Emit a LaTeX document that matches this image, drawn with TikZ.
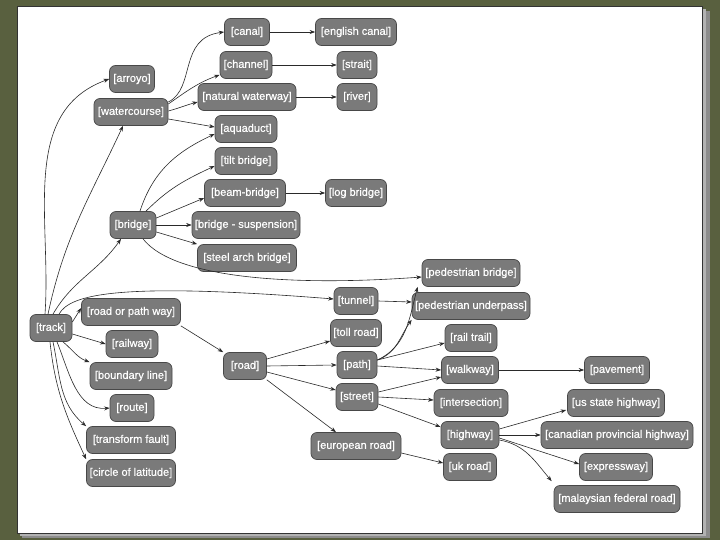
\documentclass[tikz,border=0pt]{standalone}
\usepackage{fontspec}
\setmainfont{Liberation Sans}
\newfontfamily\boxfont[FakeBold=0.5]{Liberation Sans}
\usetikzlibrary{arrows.meta}
\definecolor{bgolive}{HTML}{59603F}
\definecolor{boxfill}{HTML}{7A7A7A}
\definecolor{boxline}{HTML}{484848}
\definecolor{linkcol}{HTML}{2A2A2A}
\begin{document}
\begin{tikzpicture}[x=1pt,y=-1pt,
  box/.style={draw=boxline, fill=boxfill, rounded corners=6pt, text=white,
    font=\boxfont\fontsize{11}{12}\selectfont, inner xsep=2pt, inner ysep=2pt,
    minimum height=27pt, line width=0.7pt},
  link/.style={draw=linkcol, line width=0.6pt, -{Stealth[length=5.5pt,width=4pt]}}]
\useasboundingbox (0,0) rectangle (720,540);
% background and panel
\fill[bgolive] (0,0) rectangle (720,540);
\fill[black!45] (22,11) rectangle (710,538);
\fill[black!30] (20,9) rectangle (706,536);
\filldraw[fill=white, draw=black!80, line width=0.8pt] (17,6) rectangle (702,533);

% nodes
\node[box, minimum width=45pt] (canal) at (247,32) {[canal]};
\node[box, minimum width=81pt] (english) at (356,32) {[english canal]};
\node[box, minimum width=52pt] (channel) at (246,65) {[channel]};
\node[box, minimum width=40pt] (strait) at (357,65) {[strait]};
\node[box, minimum width=98pt] (natural) at (247,97) {[natural waterway]};
\node[box, minimum width=40pt] (river) at (357,97) {[river]};
\node[box, minimum width=45pt] (arroyo) at (132,79) {[arroyo]};
\node[box, minimum width=74pt] (watercourse) at (131,112) {[watercourse]};
\node[box, minimum width=62pt] (aquaduct) at (246,129) {[aquaduct]};
\node[box, minimum width=62pt] (tilt) at (246,161) {[tilt bridge]};
\node[box, minimum width=81pt] (beam) at (245,193) {[beam-bridge]};
\node[box, minimum width=61pt] (log) at (356,193) {[log bridge]};
\node[box, minimum width=46pt] (bridge) at (133,225) {[bridge]};
\node[box, minimum width=108pt] (suspension) at (246,225) {[bridge - suspension]};
\node[box, minimum width=99pt] (steel) at (247,258) {[steel arch bridge]};
\node[box, minimum width=98pt] (pedbridge) at (471,273) {[pedestrian bridge]};
\node[box, minimum width=44pt] (tunnel) at (356,301) {[tunnel]};
\node[box, minimum width=118pt] (pedunder) at (471,306) {[pedestrian underpass]};
\node[box, minimum width=99pt] (roadpath) at (131,312) {[road or path way]};
\node[box, minimum width=42pt] (track) at (51,328) {[track]};
\node[box, minimum width=51pt] (toll) at (356,333) {[toll road]};
\node[box, minimum width=52pt] (rail) at (471,338) {[rail trail]};
\node[box, minimum width=52pt] (railway) at (132,344) {[railway]};
\node[box, minimum width=40pt] (path) at (357,365) {[path]};
\node[box, minimum width=43pt] (road) at (245,366) {[road]};
\node[box, minimum width=57pt] (walkway) at (470,370) {[walkway]};
\node[box, minimum width=65pt] (pavement) at (617,370) {[pavement]};
\node[box, minimum width=82pt] (boundary) at (131,376) {[boundary line]};
\node[box, minimum width=42pt] (street) at (357,397) {[street]};
\node[box, minimum width=74pt] (intersection) at (471,403) {[intersection]};
\node[box, minimum width=97pt] (usstate) at (616,403) {[us state highway]};
\node[box, minimum width=44pt] (route) at (132,408) {[route]};
\node[box, minimum width=58pt] (highway) at (470,435) {[highway]};
\node[box, minimum width=152pt] (canadian) at (617,435) {[canadian provincial highway]};
\node[box, minimum width=89pt] (transform) at (131,440) {[transform fault]};
\node[box, minimum width=90pt] (european) at (356,446) {[european road]};
\node[box, minimum width=53pt] (uk) at (470,467) {[uk road]};
\node[box, minimum width=73pt] (expressway) at (616,467) {[expressway]};
\node[box, minimum width=89pt] (circle) at (131,473) {[circle of latitude]};
\node[box, minimum width=126pt] (malaysian) at (617,499) {[malaysian federal road]};

% connectors from track
\draw[link] ([xshift=-6pt]track.north) to[out=86,in=200] (arroyo.west);
\draw[link] ([xshift=-3pt]track.north) to[out=78,in=245] ([xshift=-8pt]watercourse.south);
\draw[link] ([xshift=2pt]track.north) to[out=60,in=235] ([xshift=-12pt]bridge.south);
\draw[link] ([xshift=8pt]track.north) .. controls (70,294) and (120,282) .. ([yshift=2pt]tunnel.west);
\draw[link] ([yshift=6pt]track.east) -- ([yshift=4pt]roadpath.west);
\draw[link] ([yshift=-6pt]track.east) -- (railway.west);
\draw[link] ([xshift=12pt]track.south) to[out=-40,in=160] (boundary.north west);
\draw[link] ([xshift=6pt]track.south) to[out=-68,in=185] (route.west);
\draw[link] ([xshift=2pt]track.south) to[out=-78,in=140] (transform.north west);
\draw[link] ([xshift=-1pt]track.south) to[out=-84,in=115] (circle.north west);

% watercourse
\draw[link] ([yshift=10pt]watercourse.east) .. controls (196,88) and (178,38) .. (canal.west);
\draw[link] ([yshift=8pt]watercourse.east) to[out=35,in=200] ([yshift=4pt]channel.south west);
\draw[link] ([yshift=1pt]watercourse.east) to[out=15,in=195] ([yshift=-5pt]natural.west);
\draw[link] ([yshift=-7pt]watercourse.east) -- ([yshift=2pt]aquaduct.west);

% bridge
\draw[link] ([xshift=7pt]bridge.north) to[out=72,in=205] ([yshift=-5pt]aquaduct.west);
\draw[link] ([xshift=13pt]bridge.north) to[out=45,in=205] ([yshift=-5pt]tilt.west);
\draw[link] ([yshift=7pt]bridge.east) -- ([yshift=-5pt]beam.west);
\draw[link] (bridge.east) -- (suspension.west);
\draw[link] ([yshift=-7pt]bridge.east) -- (steel.north west);
\draw[link] ([xshift=10pt]bridge.south) .. controls (175,280) and (300,286) .. ([yshift=-4pt]pedbridge.west);

% horizontal
\draw[link] (canal) -- (english);
\draw[link] (channel) -- (strait);
\draw[link] (natural) -- (river);
\draw[link] (beam) -- (log);
\draw[link] (walkway) -- (pavement);

% road
\draw[link] (roadpath.south east) -- (road.north west);
\draw[link] ([yshift=7pt]road.east) -- ([yshift=-8pt]toll.west);
\draw[link] (road.east) -- (path.west);
\draw[link] ([yshift=-6pt]road.east) -- ([yshift=7pt]street.west);
\draw[link] (road.south east) -- ([xshift=-20pt]european.north);

% tunnel, path, street
\draw[link] (tunnel.east) -- ([yshift=4pt]pedunder.west);
\draw[link] ([yshift=5pt]path.east) to[out=25,in=255] ([xshift=-4pt]pedbridge.south west);
\draw[link] ([yshift=5pt]path.east) to[out=20,in=235] (pedunder.south west);
\draw[link] ([yshift=5pt]path.east) -- ([yshift=-5pt]rail.west);
\draw[link] ([yshift=-1pt]path.east) -- (walkway.west);
\draw[link] ([yshift=5pt]street.east) -- ([yshift=-7pt]walkway.west);
\draw[link] (street.east) -- ([yshift=3pt]intersection.west);
\draw[link] ([yshift=-7pt]street.east) -- ([yshift=8pt]highway.west);
\draw[link] ([yshift=-7pt]european.east) -- ([yshift=4pt]uk.west);

% highway
\draw[link] ([yshift=6pt]highway.east) -- ([xshift=-1pt,yshift=-7pt]usstate.west);
\draw[link] (highway.east) -- (canadian.west);
\draw[link] ([yshift=-3pt]highway.east) -- ([yshift=3pt]expressway.west);
\draw[link] ([yshift=-5pt]highway.east) to[out=-10,in=130] ([xshift=-2pt,yshift=4pt]malaysian.north west);
\end{tikzpicture}
\end{document}
